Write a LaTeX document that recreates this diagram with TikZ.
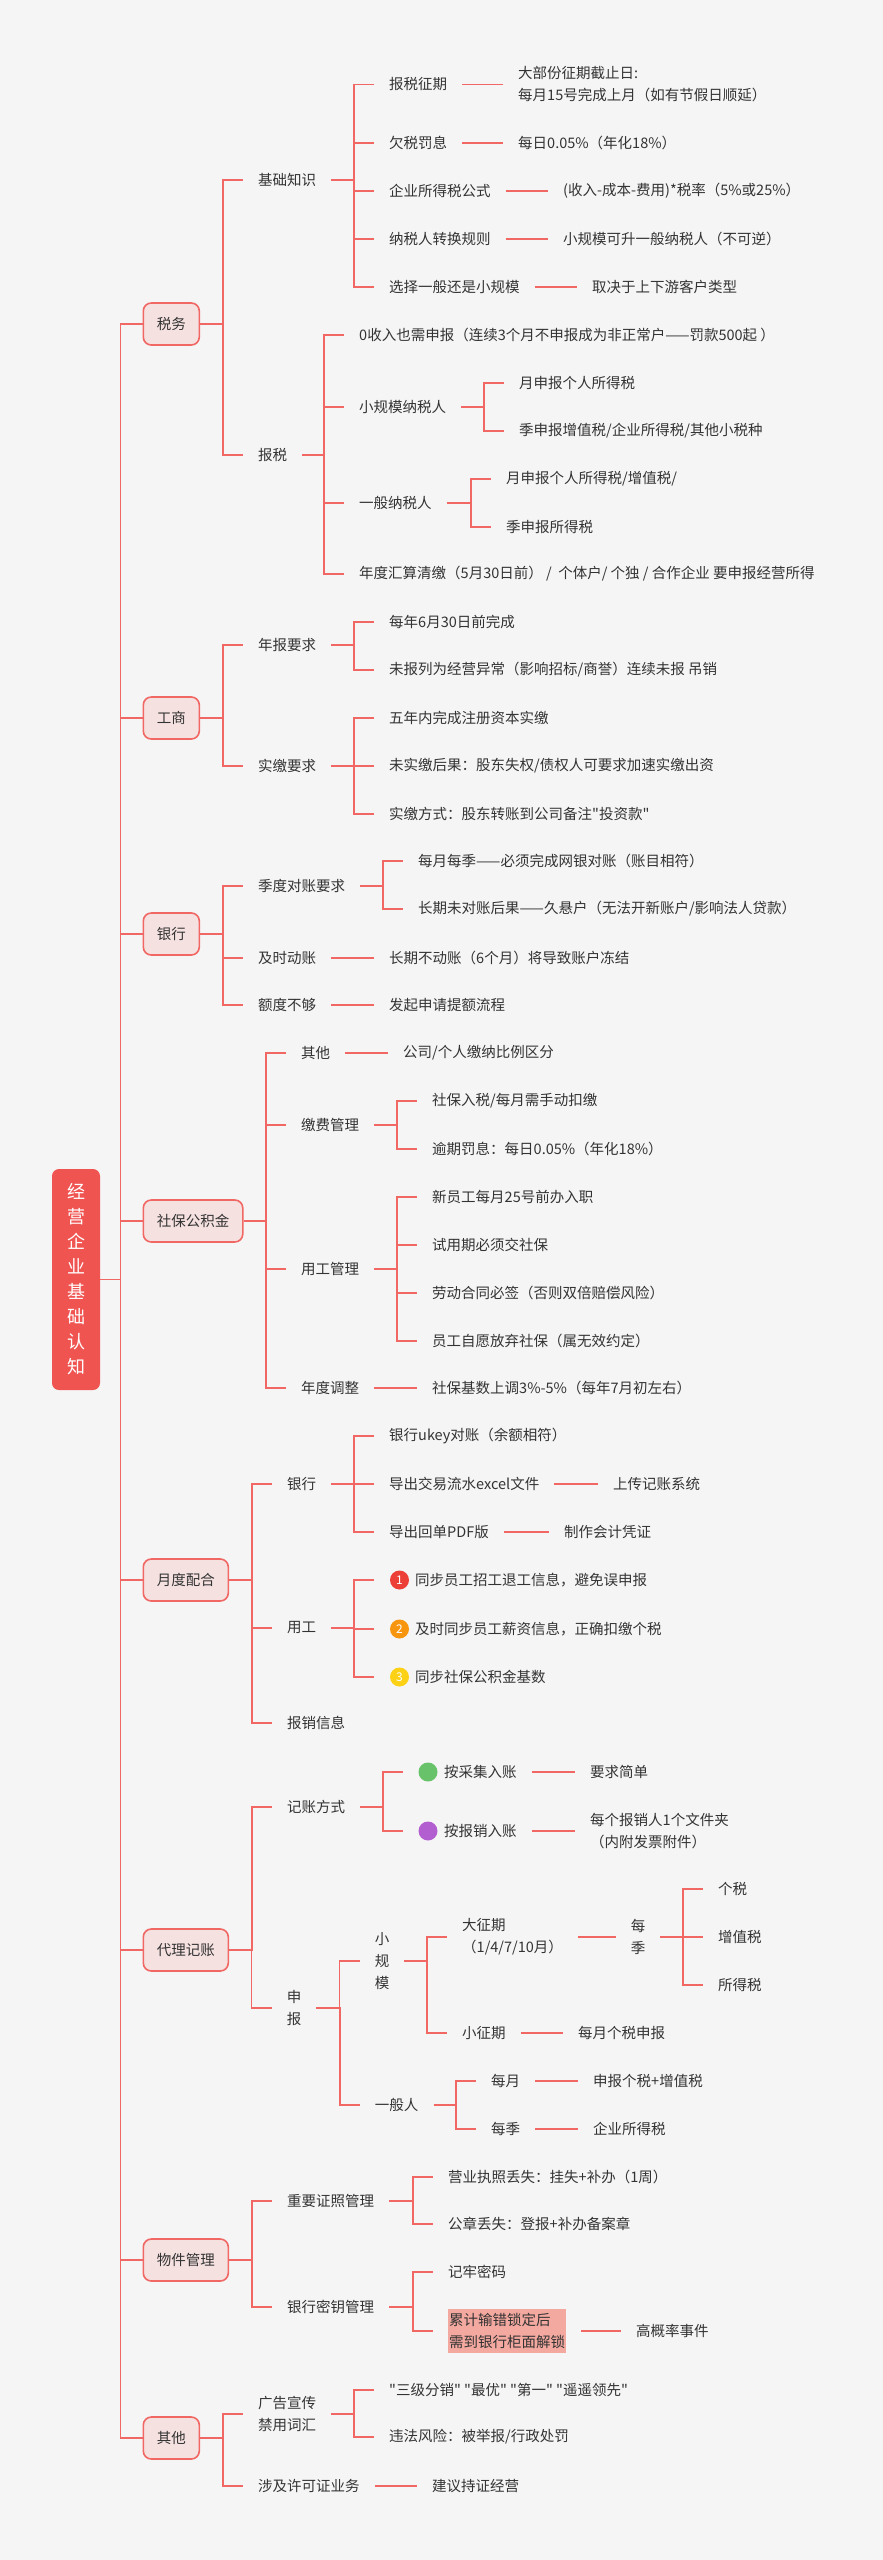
\documentclass[tikz,border=0pt]{standalone}
\usepackage{fontspec}
\setmainfont{Noto Sans CJK SC}
\newfontfamily\plainq{Noto Sans CJK SC}
\definecolor{bg}{HTML}{F5F5F5}
\definecolor{lc}{HTML}{F06763}
\definecolor{boxfill}{HTML}{F6E1E1}
\definecolor{rootc}{HTML}{F05451}
\definecolor{txt}{HTML}{333333}
\definecolor{lockc}{HTML}{F4A9A0}
\definecolor{bdone}{HTML}{EC3F38}
\definecolor{bdtwo}{HTML}{F8950F}
\definecolor{bdthree}{HTML}{FCD116}
\definecolor{dotg}{HTML}{67C26A}
\definecolor{dotp}{HTML}{B35ED0}
\newcommand\mmconn[2]{\draw[edge] (#1.east) -| ([xshift=-20pt]#2.west) -- (#2.west);}
\tikzset{
  edge/.style={draw=lc, line width=1.8pt},
  t/.style={anchor=west, inner xsep=15pt, inner ysep=2pt, text=txt, font=\fontsize{14.5pt}{22pt}\selectfont},
  tq/.style={t, font=\fontsize{14.5pt}{22pt}\plainq},
  tt/.style={t, align=left},
  vt/.style={inner xsep=15pt, inner ysep=2pt, text=txt, align=center, font=\fontsize{14.5pt}{22pt}\selectfont},
  lone/.style={draw=lc, line width=1.6pt, fill=boxfill, rounded corners=8pt, anchor=west, minimum height=42pt, inner xsep=13.5pt, text=txt, font=\fontsize{14.5pt}{22pt}\selectfont},
  rootbox/.style={fill=rootc, rounded corners=7pt, minimum width=48pt, minimum height=221pt, inner sep=0pt, text=white, align=center, font=\fontsize{18pt}{25pt}\selectfont},
  badge/.style={circle, inner sep=0pt, minimum size=19pt, text=white, font=\fontsize{12pt}{12pt}\selectfont},
  lockbox/.style={t, align=left, fill=lockc, inner xsep=1pt, outer xsep=15pt, inner ysep=4pt},
}
\begin{document}
\begin{tikzpicture}[x=1pt,y=-1pt]
\fill[bg] (0,0) rectangle (883,2560);
\useasboundingbox (0,0) rectangle (883,2560);

\node[rootbox] (root) at (76,1279.5) {经\\营\\企\\业\\基\\础\\认\\知};

\node[lone] (sw) at (142.5,324) {税务};
\node[lone] (gs) at (142.5,718) {工商};
\node[lone] (yh) at (142.5,934) {银行};
\node[lone] (sb) at (142.5,1221) {社保公积金};
\node[lone] (yd) at (142.5,1580) {月度配合};
\node[lone] (dl) at (142.5,1950) {代理记账};
\node[lone] (wj) at (142.5,2260) {物件管理};
\node[lone] (qt) at (142.5,2438) {其他};

% 税务
\node[t] (jc) at (243,180) {基础知识};
\node[t] (bs) at (243,455) {报税};
\node[t] (a1) at (374,84.5) {报税征期};
\node[tt] (a1l) at (503,84.5) {大部份征期截止日:\\每月15号完成上月（如有节假日顺延）};
\node[t] (a2) at (374,143) {欠税罚息};
\node[t] (a2l) at (503,143) {每日0.05\%（年化18\%）};
\node[t] (a3) at (374,191) {企业所得税公式};
\node[t] (a3l) at (548,191) {(收入-成本-费用)*税率（5\%或25\%）};
\node[t] (a4) at (374,239) {纳税人转换规则};
\node[t] (a4l) at (548,239) {小规模可升一般纳税人（不可逆）};
\node[t] (a5) at (374,287) {选择一般还是小规模};
\node[t] (a5l) at (577,287) {取决于上下游客户类型};
\node[t] (b1) at (344,335) {0收入也需申报（连续3个月不申报成为非正常户——罚款500起 ）};
\node[t] (b2) at (344,407) {小规模纳税人};
\node[t] (b21) at (504,383) {月申报个人所得税};
\node[t] (b22) at (504,431) {季申报增值税/企业所得税/其他小税种};
\node[t] (b3) at (344,503) {一般纳税人};
\node[t] (b31) at (491,479) {月申报个人所得税/增值税/};
\node[t] (b32) at (491,527) {季申报所得税};
\node[t] (b4) at (344,574) {年度汇算清缴（5月30日前） /\ \ 个体户/ 个独 / 合作企业 要申报经营所得};

% 工商
\node[t] (nb) at (243,645) {年报要求};
\node[t] (nb1) at (374,622) {每年6月30日前完成};
\node[t] (nb2) at (374,670) {未报列为经营异常（影响招标/商誉）连续未报 吊销};
\node[t] (sj) at (243,766) {实缴要求};
\node[t] (sj1) at (374,718) {五年内完成注册资本实缴};
\node[t] (sj2) at (374,766) {未实缴后果：股东失权/债权人可要求加速实缴出资};
\node[tq] (sj3) at (374,814) {实缴方式：股东转账到公司备注"投资款"};

% 银行
\node[t] (dz) at (243,886) {季度对账要求};
\node[t] (dz1) at (403,861) {每月每季——必须完成网银对账（账目相符）};
\node[t] (dz2) at (403,909) {长期未对账后果——久悬户（无法开新账户/影响法人贷款）};
\node[t] (jd) at (243,958) {及时动账};
\node[t] (jdl) at (374,958) {长期不动账（6个月）将导致账户冻结};
\node[t] (ed) at (243,1005) {额度不够};
\node[t] (edl) at (374,1005) {发起申请提额流程};

% 社保公积金
\node[t] (s1) at (286,1053) {其他};
\node[t] (s1l) at (388,1053) {公司/个人缴纳比例区分};
\node[t] (s2) at (286,1125) {缴费管理};
\node[t] (s21) at (417,1101) {社保入税/每月需手动扣缴};
\node[t] (s22) at (417,1149) {逾期罚息：每日0.05\%（年化18\%）};
\node[t] (s3) at (286,1269) {用工管理};
\node[t] (s31) at (417,1197) {新员工每月25号前办入职};
\node[t] (s32) at (417,1245) {试用期必须交社保};
\node[t] (s33) at (417,1293) {劳动合同必签（否则双倍赔偿风险）};
\node[t] (s34) at (417,1341) {员工自愿放弃社保（属无效约定）};
\node[t] (s4) at (286,1388) {年度调整};
\node[t] (s4l) at (417,1388) {社保基数上调3\%-5\%（每年7月初左右）};

% 月度配合
\node[t] (m1) at (272,1484) {银行};
\node[t] (m11) at (374,1436) {银行ukey对账（余额相符）};
\node[t] (m12) at (374,1484) {导出交易流水excel文件};
\node[t] (m12l) at (598,1484) {上传记账系统};
\node[t] (m13) at (374,1532) {导出回单PDF版};
\node[t] (m13l) at (549,1532) {制作会计凭证};
\node[t] (m2) at (272,1628) {用工};
\node[t] (m21) at (374,1580) {\hspace{26pt}同步员工招工退工信息，避免误申报};
\node[badge,fill=bdone] (m21b) at ([xshift=25.5pt]m21.west) {1};
\node[t] (m22) at (374,1629) {\hspace{26pt}及时同步员工薪资信息，正确扣缴个税};
\node[badge,fill=bdtwo] (m22b) at ([xshift=25.5pt]m22.west) {2};
\node[t] (m23) at (374,1677) {\hspace{26pt}同步社保公积金基数};
\node[badge,fill=bdthree] (m23b) at ([xshift=25.5pt]m23.west) {3};
\node[t] (m3) at (272,1723) {报销信息};

% 代理记账
\node[t] (d1) at (272,1807) {记账方式};
\node[t] (d11) at (403,1772) {\hspace{26pt}按采集入账};
\node[badge,fill=dotg] (d11b) at ([xshift=25pt]d11.west) {};
\node[t] (d11l) at (575,1772) {要求简单};
\node[t] (d12) at (403,1831) {\hspace{26pt}按报销入账};
\node[badge,fill=dotp] (d12b) at ([xshift=25pt]d12.west) {};
\node[tt] (d12l) at (575,1831) {每个报销人1个文件夹\\（内附发票附件）};
\node[vt] (d2) at (294,2008) {申\\报};
\node[vt] (d21) at (382,1961) {小\\规\\模};
\node[tt] (d211) at (447,1937) {大征期\\（1/4/7/10月）};
\node[vt] (d2111) at (638,1937) {每\\季};
\node[t] (g1) at (703,1889) {个税};
\node[t] (g2) at (703,1937) {增值税};
\node[t] (g3) at (703,1985) {所得税};
\node[t] (d212) at (447,2033) {小征期};
\node[t] (d212l) at (563,2033) {每月个税申报};
\node[t] (d22) at (359.75,2105) {一般人};
\node[t] (d221) at (476,2081) {每月};
\node[t] (d221l) at (578,2081) {申报个税+增值税};
\node[t] (d222) at (476,2129) {每季};
\node[t] (d222l) at (578,2129) {企业所得税};

% 物件管理
\node[t] (w1) at (272,2201) {重要证照管理};
\node[t] (w11) at (433,2177) {营业执照丢失：挂失+补办（1周）};
\node[t] (w12) at (433,2224) {公章丢失：登报+补办备案章};
\node[t] (w2) at (272,2307) {银行密钥管理};
\node[t] (w21) at (433,2272) {记牢密码};
\node[lockbox] (w22) at (433,2331) {累计输错锁定后\\需到银行柜面解锁};
\node[t] (w22l) at (621,2331) {高概率事件};

% 其他
\node[tt] (o1) at (243,2414) {广告宣传\\禁用词汇};
\node[tq] (o11) at (374,2390) {"三级分销" "最优" "第一" "遥遥领先"};
\node[t] (o12) at (374,2437) {违法风险：被举报/行政处罚};
\node[t] (o2) at (243,2486) {涉及许可证业务};
\node[t] (o2l) at (417,2486) {建议持证经营};

% connectors
\foreach \n in {sw,gs,yh,sb,yd,dl,wj,qt}{%
  \draw[edge] (root.east) -| ([xshift=-22pt]\n.west) -- (\n.west);}
\foreach \p/\c in {sw/jc,sw/bs,jc/a1,jc/a2,jc/a3,jc/a4,jc/a5,a1/a1l,a2/a2l,a3/a3l,a4/a4l,a5/a5l,%
bs/b1,bs/b2,bs/b3,bs/b4,b2/b21,b2/b22,b3/b31,b3/b32,%
gs/nb,gs/sj,nb/nb1,nb/nb2,sj/sj1,sj/sj2,sj/sj3,%
yh/dz,yh/jd,yh/ed,dz/dz1,dz/dz2,jd/jdl,ed/edl,%
sb/s1,sb/s2,sb/s3,sb/s4,s1/s1l,s2/s21,s2/s22,s3/s31,s3/s32,s3/s33,s3/s34,s4/s4l,%
yd/m1,yd/m2,yd/m3,m1/m11,m1/m12,m1/m13,m12/m12l,m13/m13l,m2/m21,m2/m22,m2/m23,%
dl/d1,dl/d2,d1/d11,d1/d12,d11/d11l,d12/d12l,d2/d21,d2/d22,d21/d211,d21/d212,d211/d2111,%
d2111/g1,d2111/g2,d2111/g3,d212/d212l,d22/d221,d22/d222,d221/d221l,d222/d222l,%
wj/w1,wj/w2,w1/w11,w1/w12,w2/w21,w2/w22,w22/w22l,%
qt/o1,qt/o2,o1/o11,o1/o12,o2/o2l}{%
  \mmconn{\p}{\c}}
\end{tikzpicture}
\end{document}
